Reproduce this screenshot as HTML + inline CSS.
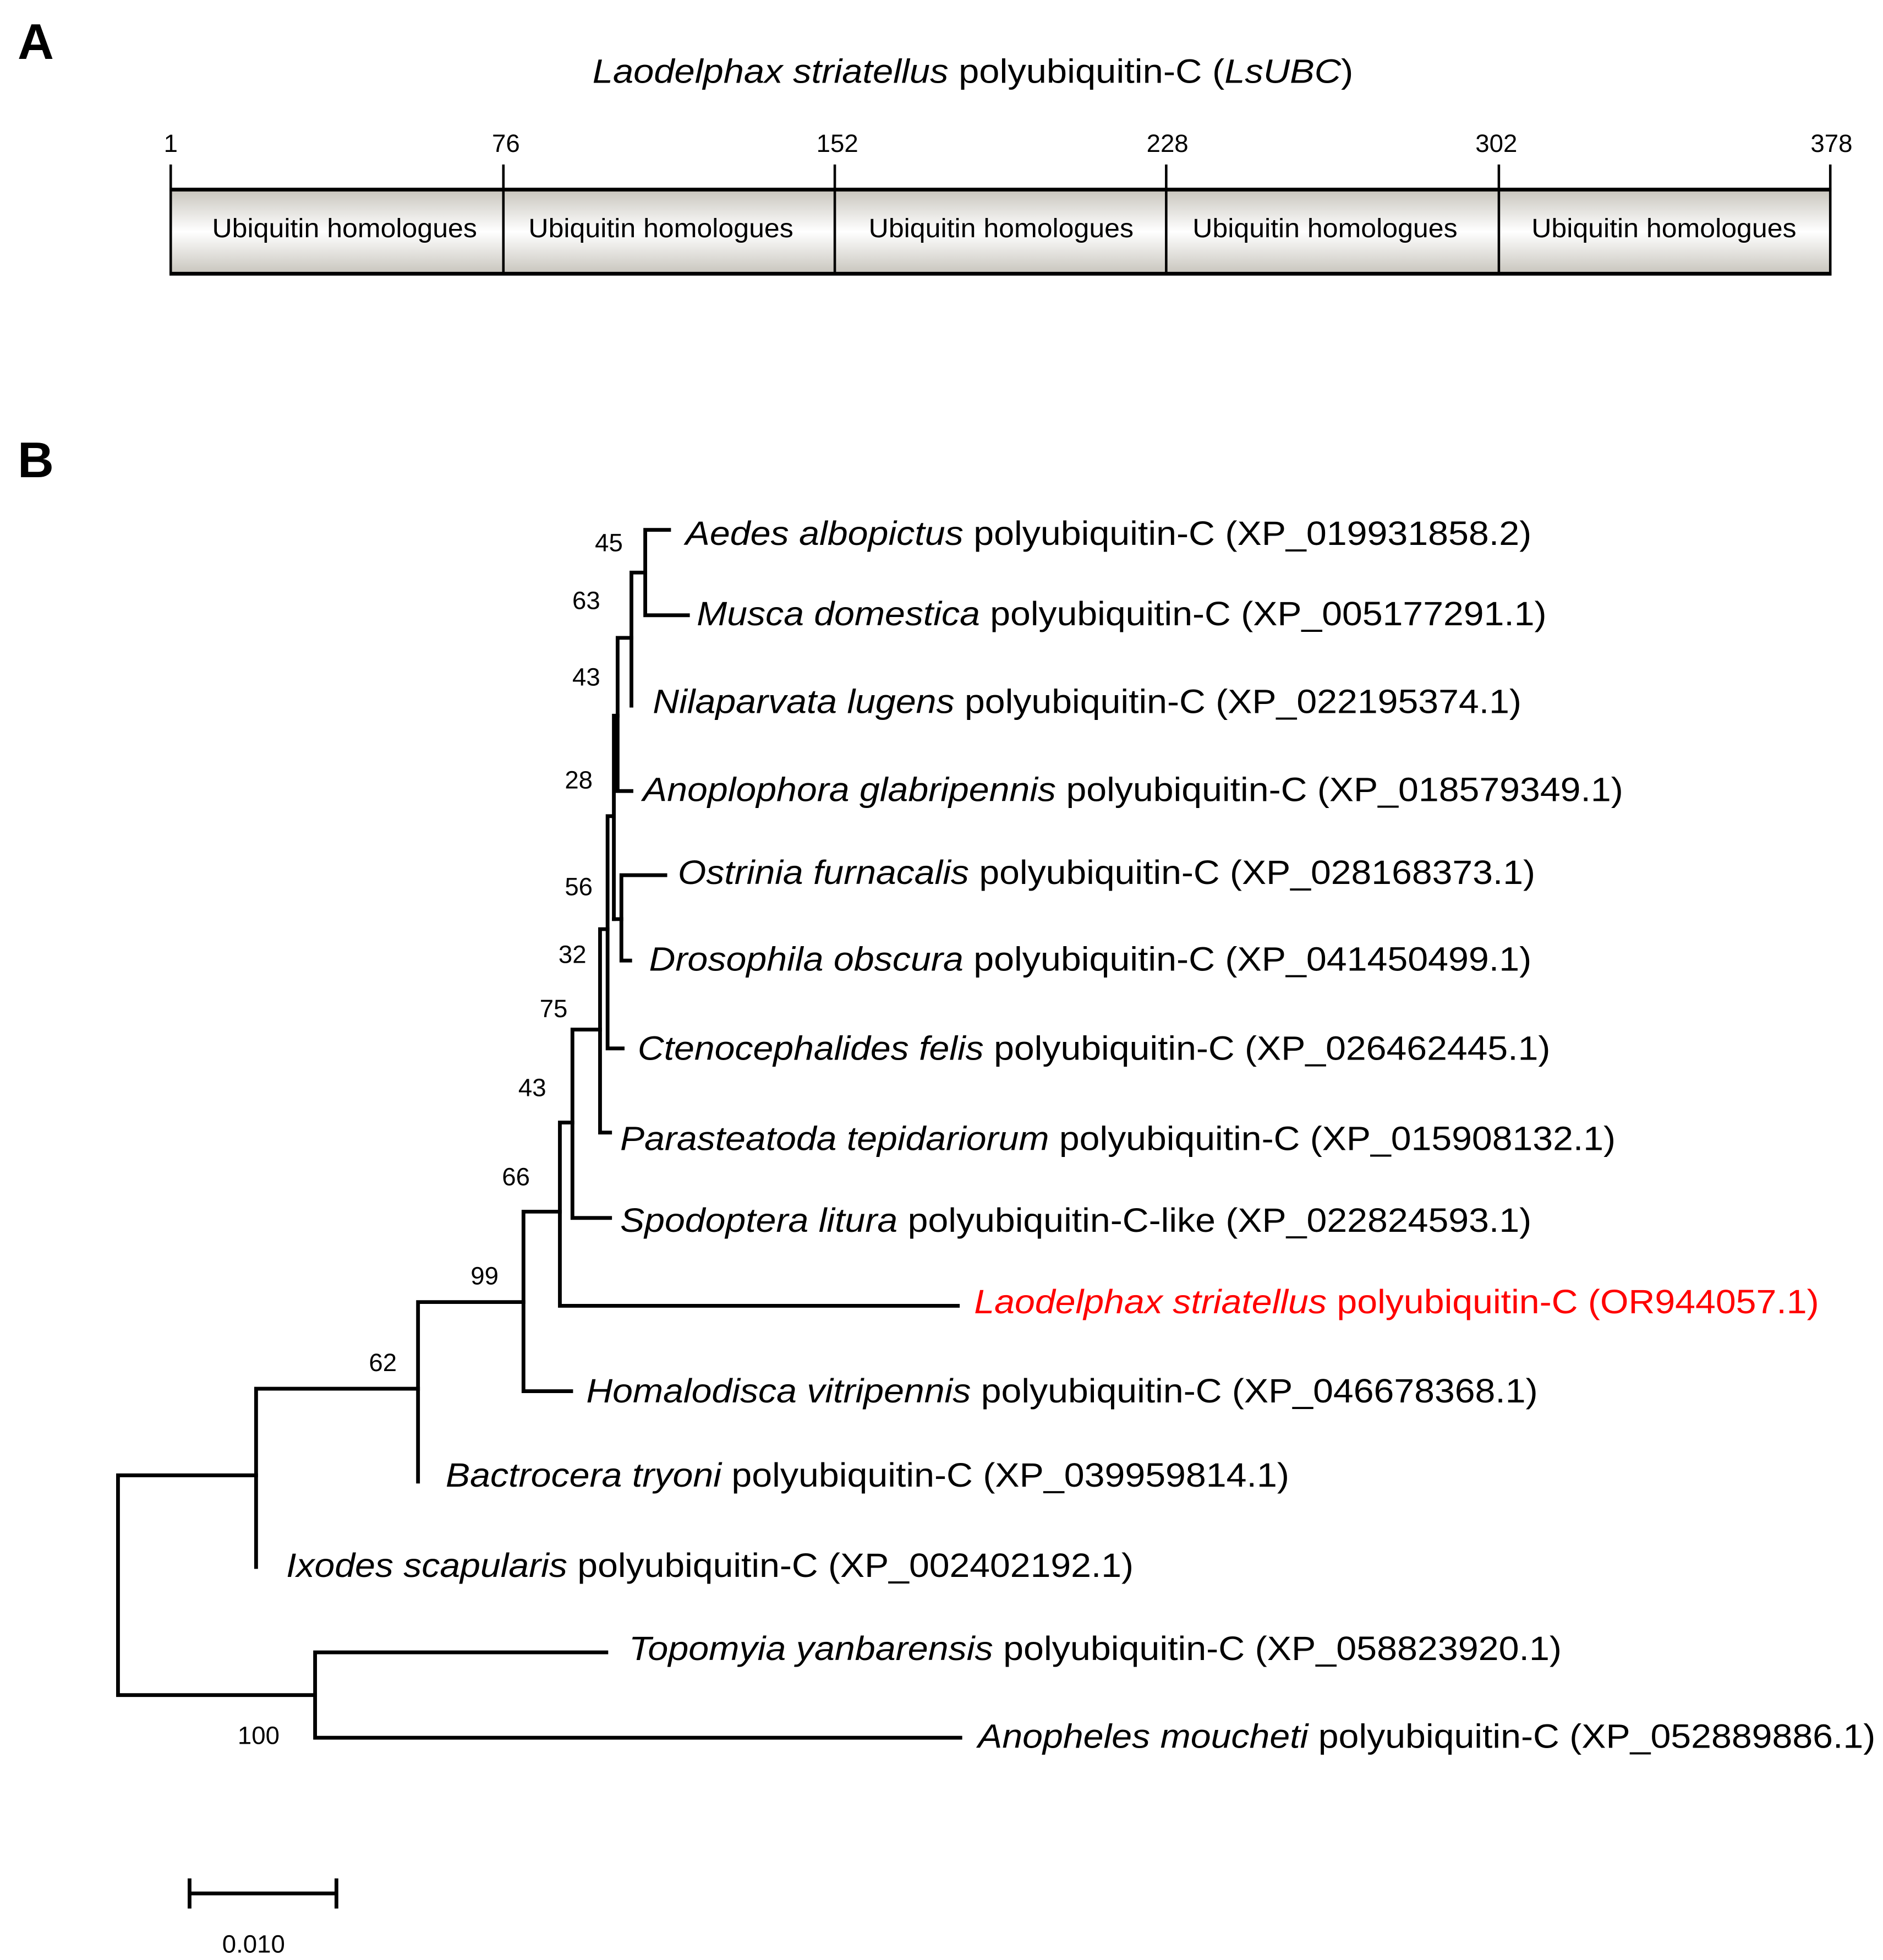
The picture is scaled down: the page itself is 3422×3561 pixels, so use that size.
<!DOCTYPE html>
<html><head><meta charset="utf-8"><style>
html,body{margin:0;padding:0;background:#fff;}
svg{display:block;}
text{font-family:"Liberation Sans",Arial,sans-serif;}
</style></head><body>
<svg width="3422" height="3561" viewBox="0 0 1500 1561" preserveAspectRatio="none" xmlns="http://www.w3.org/2000/svg">
<defs>
<linearGradient id="g" x1="0" y1="0" x2="0" y2="1">
<stop offset="0" stop-color="#c8c5bd"/>
<stop offset="0.5" stop-color="#ffffff"/>
<stop offset="1" stop-color="#c8c5bd"/>
</linearGradient>
</defs>
<text x="14" y="47" font-size="40" font-weight="bold">A</text>
<text x="472" y="66" font-size="27" textLength="606" lengthAdjust="spacingAndGlyphs"><tspan font-style="italic">Laodelphax striatellus</tspan> polyubiquitin-C (<tspan font-style="italic">LsUBC</tspan>)</text>
<g font-size="20" text-anchor="middle">
<text x="136" y="121">1</text><text x="403" y="121">76</text><text x="667" y="121">152</text>
<text x="930" y="121">228</text><text x="1192" y="121">302</text><text x="1459" y="121">378</text>
</g>
<rect x="136" y="151" width="1322" height="67" fill="url(#g)"/>
<g stroke="#000" stroke-width="2">
<line x1="136" y1="131" x2="136" y2="219"/><line x1="401" y1="131" x2="401" y2="219"/>
<line x1="665" y1="131" x2="665" y2="219"/><line x1="929" y1="131" x2="929" y2="219"/>
<line x1="1194" y1="131" x2="1194" y2="219"/><line x1="1458" y1="131" x2="1458" y2="219"/>
</g>
<line x1="135" y1="151" x2="1459" y2="151" stroke="#000" stroke-width="3"/>
<line x1="135" y1="218" x2="1459" y2="218" stroke="#000" stroke-width="3"/>
<g font-size="21">
<text x="169" y="189" textLength="211" lengthAdjust="spacingAndGlyphs">Ubiquitin homologues</text>
<text x="421" y="189" textLength="211" lengthAdjust="spacingAndGlyphs">Ubiquitin homologues</text>
<text x="692" y="189" textLength="211" lengthAdjust="spacingAndGlyphs">Ubiquitin homologues</text>
<text x="950" y="189" textLength="211" lengthAdjust="spacingAndGlyphs">Ubiquitin homologues</text>
<text x="1220" y="189" textLength="211" lengthAdjust="spacingAndGlyphs">Ubiquitin homologues</text>
</g>

<text x="14" y="380" font-size="40" font-weight="bold">B</text>

<g stroke="#000" stroke-width="3" fill="none" stroke-linecap="square">
<path d="M533 422 H514 V490 H548"/>
<path d="M503 562 V456 H514"/>
<path d="M503 508 H492 V630 H503"/>
<path d="M492 570 H489 V732"/>
<path d="M530 697 H495 V765 H502"/>
<path d="M489 732 H495"/>
<path d="M489 650 H484 V835 H496"/>
<path d="M484 740 H478 V902 H486"/>
<path d="M478 820 H456 V970 H486"/>
<path d="M456 894 H446 V1040 H763"/>
<path d="M446 965 H417 V1108 H455"/>
<path d="M417 1037 H333 V1180"/>
<path d="M333 1106 H204 V1248"/>
<path d="M204 1175 H94 V1350 H251"/>
<path d="M483 1316 H251 V1384 H765"/>
</g>

<g font-size="27">
<text x="546" y="434" textLength="674" lengthAdjust="spacingAndGlyphs"><tspan font-style="italic">Aedes albopictus</tspan> polyubiquitin-C (XP_019931858.2)</text>
<text x="555" y="498" textLength="677" lengthAdjust="spacingAndGlyphs"><tspan font-style="italic">Musca domestica</tspan> polyubiquitin-C (XP_005177291.1)</text>
<text x="520" y="568" textLength="692" lengthAdjust="spacingAndGlyphs"><tspan font-style="italic">Nilaparvata lugens</tspan> polyubiquitin-C (XP_022195374.1)</text>
<text x="512" y="638" textLength="781" lengthAdjust="spacingAndGlyphs"><tspan font-style="italic">Anoplophora glabripennis</tspan> polyubiquitin-C (XP_018579349.1)</text>
<text x="540" y="704" textLength="683" lengthAdjust="spacingAndGlyphs"><tspan font-style="italic">Ostrinia furnacalis</tspan> polyubiquitin-C (XP_028168373.1)</text>
<text x="517" y="773" textLength="703" lengthAdjust="spacingAndGlyphs"><tspan font-style="italic">Drosophila obscura</tspan> polyubiquitin-C (XP_041450499.1)</text>
<text x="508" y="844" textLength="727" lengthAdjust="spacingAndGlyphs"><tspan font-style="italic">Ctenocephalides felis</tspan> polyubiquitin-C (XP_026462445.1)</text>
<text x="494" y="916" textLength="793" lengthAdjust="spacingAndGlyphs"><tspan font-style="italic">Parasteatoda tepidariorum</tspan> polyubiquitin-C (XP_015908132.1)</text>
<text x="494" y="981" textLength="726" lengthAdjust="spacingAndGlyphs"><tspan font-style="italic">Spodoptera litura</tspan> polyubiquitin-C-like (XP_022824593.1)</text>
<text x="776" y="1046" fill="#ff0000" textLength="673" lengthAdjust="spacingAndGlyphs"><tspan font-style="italic">Laodelphax striatellus</tspan> polyubiquitin-C (OR944057.1)</text>
<text x="467" y="1117" textLength="758" lengthAdjust="spacingAndGlyphs"><tspan font-style="italic">Homalodisca vitripennis</tspan> polyubiquitin-C (XP_046678368.1)</text>
<text x="355" y="1184" textLength="672" lengthAdjust="spacingAndGlyphs"><tspan font-style="italic">Bactrocera tryoni</tspan> polyubiquitin-C (XP_039959814.1)</text>
<text x="228" y="1256" textLength="675" lengthAdjust="spacingAndGlyphs"><tspan font-style="italic">Ixodes scapularis</tspan> polyubiquitin-C (XP_002402192.1)</text>
<text x="501" y="1322" textLength="743" lengthAdjust="spacingAndGlyphs"><tspan font-style="italic">Topomyia yanbarensis</tspan> polyubiquitin-C (XP_058823920.1)</text>
<text x="779" y="1392" textLength="715" lengthAdjust="spacingAndGlyphs"><tspan font-style="italic">Anopheles moucheti</tspan> polyubiquitin-C (XP_052889886.1)</text>
</g>

<g font-size="20" text-anchor="middle">
<text x="485" y="439">45</text>
<text x="467" y="485">63</text>
<text x="467" y="546">43</text>
<text x="461" y="628">28</text>
<text x="461" y="713">56</text>
<text x="456" y="767">32</text>
<text x="441" y="810">75</text>
<text x="424" y="873">43</text>
<text x="411" y="944">66</text>
<text x="386" y="1023">99</text>
<text x="305" y="1092">62</text>
<text x="206" y="1389">100</text>
</g>

<g stroke="#000" stroke-width="3">
<line x1="151" y1="1508" x2="268" y2="1508"/>
<line x1="151" y1="1496" x2="151" y2="1520"/>
<line x1="268" y1="1496" x2="268" y2="1520"/>
</g>
<text x="202" y="1555" font-size="20" text-anchor="middle">0.010</text>
</svg>
</body></html>
